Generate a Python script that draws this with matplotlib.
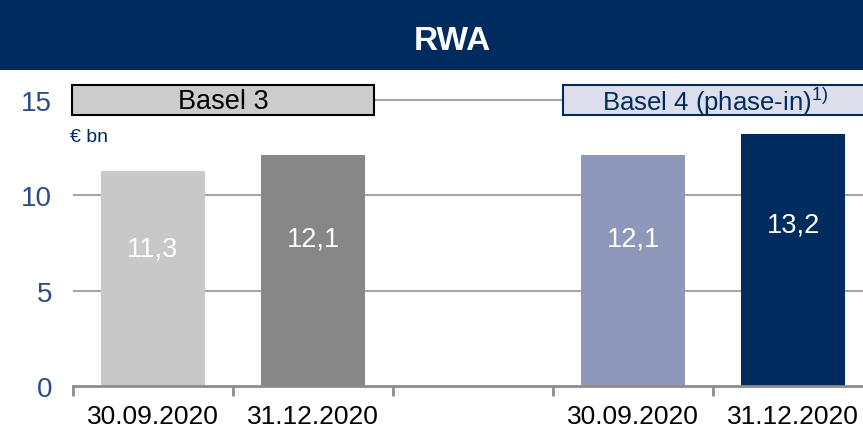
import matplotlib
matplotlib.use('Agg')
import matplotlib.pyplot as plt
from matplotlib.patches import Rectangle

plt.rcParams['font.family'] = ['Liberation Sans', 'DejaVu Sans']
plt.rcParams['mathtext.fontset'] = 'custom'
plt.rcParams['mathtext.rm'] = 'Liberation Sans'

# data
dates = ['30.09.2020', '31.12.2020', '', '30.09.2020', '31.12.2020']
slots = [0, 1, 3, 4]
rwa = [11.3, 12.1, 12.1, 13.2]
rwa_labels = ['11,3', '12,1', '12,1', '13,2']
colors = ['#C8C8C8', '#878787', '#8E98BB', '#002B5F']
navy = '#002B5F'
tick_blue = '#2E4A86'

fig = plt.figure(figsize=(8.63, 4.31), dpi=100)

# title banner
fig.patches.append(Rectangle((0, 1 - 71 / 431), 1, 71 / 431, transform=fig.transFigure,
                             facecolor=navy, edgecolor='none', zorder=0))
fig.text(0.524, 1 - 42 / 431, 'RWA', color='white', fontsize=24, fontweight='bold',
         ha='center', va='center')

ax = fig.add_axes([73 / 863, 1 - 387 / 431, 800 / 863, 305 / 431])
ax.set_xlim(-0.5, 4.5)
ax.set_ylim(0, 16)

ax.bar(slots, rwa, width=0.65, color=colors, zorder=3)
for x, v, t in zip(slots, rwa, rwa_labels):
    ax.text(x, v * 0.64, t, color='white', fontsize=19.5, ha='center', va='center', zorder=4)

# grid
for y in [5, 10, 15]:
    ax.axhline(y, color='#A6A6A6', lw=1.5, zorder=1)

# regime boxes
ax.add_patch(Rectangle((-0.506, 14.2), 1.89, 1.6, facecolor='#CCCCCC', edgecolor='black',
                       lw=1.5, zorder=5, clip_on=False))
ax.text(0.44, 14.95, 'Basel 3', fontsize=19.5, ha='center', va='center', color='black', zorder=6)
ax.add_patch(Rectangle((2.56, 14.2), 2.1, 1.6, facecolor='#DCDEEC', edgecolor=navy,
                       lw=1.5, zorder=5, clip_on=False))
ax.text(3.51, 14.95, 'Basel 4 (phase-in)$^{\\mathrm{1)}}$', fontsize=18.5, ha='center',
        va='center', color=navy, zorder=6)

ax.text(-0.52, 13.1, '€ bn', fontsize=14, color=navy, ha='left', va='center')

# axes styling
for s in ['top', 'right', 'left']:
    ax.spines[s].set_visible(False)
ax.spines['bottom'].set_color('#8C8C8C')
ax.spines['bottom'].set_linewidth(2)
ax.spines['bottom'].set_zorder(4)

ax.set_yticks([0, 5, 10, 15])
ax.tick_params(axis='y', length=0, pad=15, labelsize=20, labelcolor=tick_blue)

ax.set_xticks(range(5))
ax.set_xticklabels(dates)
ax.set_xticks([-0.5, 0.5, 1.5, 2.5, 3.5, 4.5], minor=True)
ax.tick_params(axis='x', which='major', length=0, pad=13, labelsize=19, labelcolor='black')
ax.tick_params(axis='x', which='minor', length=7, width=2, color='#8C8C8C', direction='out')

fig.savefig('out.png', dpi=100)
